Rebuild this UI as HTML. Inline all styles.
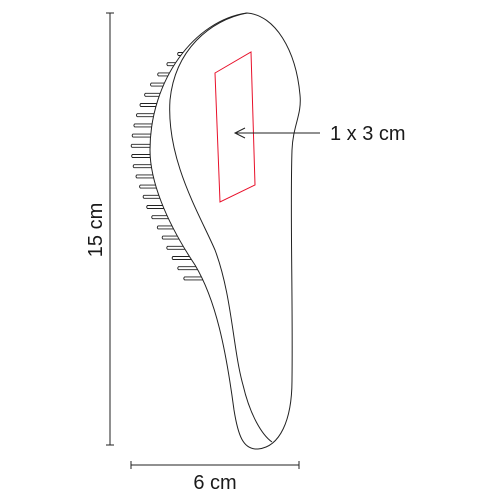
<!DOCTYPE html>
<html><head><style>
html,body{margin:0;padding:0;background:#fff}
svg{display:block}
text{font-family:"Liberation Sans",sans-serif;fill:#1a1a1a}
</style></head><body>
<svg width="500" height="500" viewBox="0 0 500 500">
<g stroke="#222" stroke-width="1">
<line x1="110" y1="13" x2="110" y2="445"/><line x1="106" y1="13" x2="114" y2="13"/><line x1="106" y1="445" x2="114" y2="445"/>
</g>
<text x="0" y="0" font-size="20" text-anchor="middle" transform="translate(102,230) rotate(-90)">15 cm</text>
<g stroke="#222" stroke-width="1">
<line x1="131" y1="465" x2="299" y2="465"/><line x1="131" y1="461" x2="131" y2="469"/><line x1="299" y1="461" x2="299" y2="469"/>
</g>
<text x="215" y="489" font-size="20" text-anchor="middle">6 cm</text>
<g id="bristles" fill="#fff" stroke="#222" stroke-width="0.9"></g>
<path fill="#fff" stroke="#222" stroke-width="1"
 d="M247,13 C275,15 296,50 300,95 C302,115 293,125 292,150 C290,210 293,300 292,380 C292,420 280,447 258,449 C243,450 238,435 234,410 C226,350 216,300 195,265 C165,220 150,180 150,150 C150,80 195,20 247,13 Z"/>
<path fill="none" stroke="#222" stroke-width="1"
 d="M247,13 C210,20 175,50 170,100 C166,160 200,215 215,250 C232,295 233,350 243,385 C250,415 262,435 272,442"/>
<polygon points="215,73 251,52 255,185 220,202" fill="none" stroke="#e8102a" stroke-width="1"/>
<g stroke="#222" stroke-width="1" fill="none">
<line x1="320" y1="133" x2="235" y2="133"/><polyline points="245,128 235,133 245,138"/>
</g>
<text x="330" y="140" font-size="20">1 x 3 cm</text>
</svg>
<script>
var pts=[[52,199],[70,180],[90,166],[110,157],[130,152],[150,150],[170,153],[190,160],[210,167],[230,178],[250,187],[270,198],[290,210]];
function edgeX(y){for(var i=0;i<pts.length-1;i++){if(y>=pts[i][0]&&y<=pts[i+1][0]){var t=(y-pts[i][0])/(pts[i+1][0]-pts[i][0]);return pts[i][1]+t*(pts[i+1][1]-pts[i][1]);}}return pts[pts.length-1][1];}
var g=document.getElementById('bristles');
for(var y=54;y<=288;y+=10.2){
 var bx=edgeX(y)+3,tx=bx-23;
 var p=document.createElementNS('http://www.w3.org/2000/svg','path');
 p.setAttribute('d','M'+bx+','+(y-1.5)+' L'+(tx+1.5)+','+(y-1.5)+' Q'+tx+','+y+' '+(tx+1.5)+','+(y+1.5)+' L'+bx+','+(y+1.5));
 
 
 g.appendChild(p);
}
</script>
</body></html>
